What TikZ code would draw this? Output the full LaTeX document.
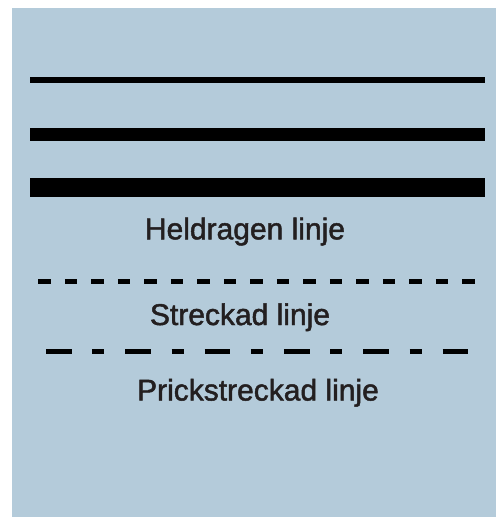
\documentclass[tikz,border=0pt]{standalone}
\usepackage{fontspec}
\setmainfont{Liberation Sans}
\newfontfamily\lblfont[FakeBold=1.6]{Liberation Sans}
\definecolor{bgblue}{RGB}{180,203,218}
\definecolor{txt}{RGB}{35,31,32}
\begin{document}
\begin{tikzpicture}[x=1pt,y=-1pt,
  lbl/.style={anchor=base,text=txt,inner sep=0pt,font=\lblfont\fontsize{30}{36}\selectfont},
  ln/.style={draw=black,line cap=butt}]
\useasboundingbox (0,0) rectangle (496,517);
\fill[bgblue] (12,8) rectangle (496,517);
% solid lines
\coordinate (a1) at (30,80);    \coordinate (b1) at (485,80);
\coordinate (a2) at (30,134.7); \coordinate (b2) at (485,134.7);
\coordinate (a3) at (30,187.5); \coordinate (b3) at (485,187.5);
\draw[ln,line width=5.4pt] (a1) -- (b1);
\draw[ln,line width=12.5pt] (a2) -- (b2);
\draw[ln,line width=18.5pt] (a3) -- (b3);
\node[lbl] (t1) at (245,239.3) {Heldragen linje};
% dashed
\coordinate (a4) at (38.3,281); \coordinate (b4) at (475,281);
\draw[ln,line width=5pt,dash pattern=on 12.5pt off 14pt] (a4) -- (b4);
\node[lbl] (t2) at (240,325) {Streckad linje};
% dash-dot
\coordinate (a5) at (46,351.3); \coordinate (b5) at (468.3,351.3);
\draw[ln,line width=5.5pt,dash pattern=on 25.7pt off 20.6pt on 12pt off 21pt] (a5) -- (b5);
\node[lbl] (t3) at (258,400.5) {Prickstreckad linje};
\end{tikzpicture}
\end{document}
